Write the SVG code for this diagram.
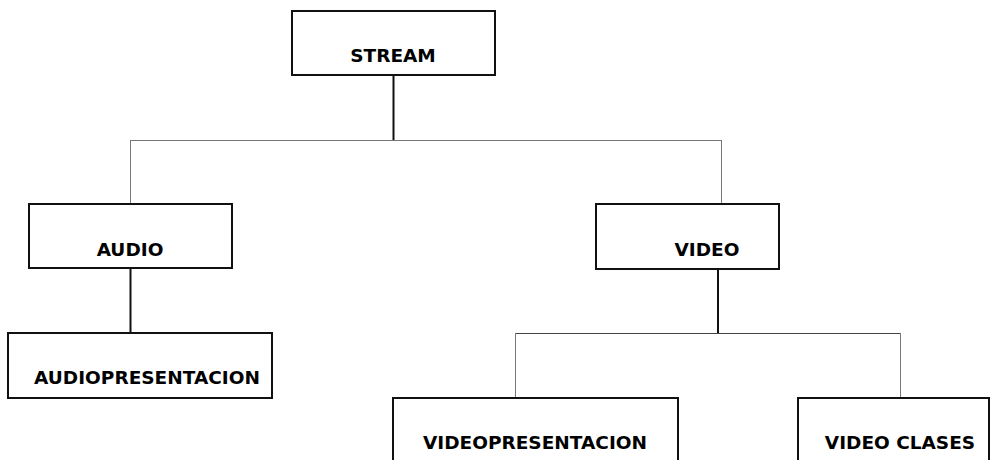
<svg xmlns="http://www.w3.org/2000/svg" width="992" height="460" viewBox="0 0 992 460">
<style>
.box{fill:#fff;stroke:#111;stroke-width:2}
.lbl{font-family:"DejaVu Sans",Verdana,sans-serif;font-weight:bold;font-size:18.5px;fill:#000;text-anchor:middle}
.main{stroke:#111;stroke-width:2;fill:none}
.thin{stroke:#777;stroke-width:1;fill:none}
.bar{stroke:#444;stroke-width:1;fill:none}
</style>
<rect width="992" height="460" fill="#fff"/>
<g id="connectors">
<line class="main" x1="393.5" y1="75" x2="393.5" y2="140"/>
<line class="thin" x1="130.5" y1="140.5" x2="721.5" y2="140.5"/>
<line class="thin" x1="130.5" y1="140" x2="130.5" y2="204"/>
<line class="thin" x1="721.5" y1="140" x2="721.5" y2="204"/>
<line class="main" x1="130.5" y1="268" x2="130.5" y2="333"/>
<line class="main" x1="718" y1="269" x2="718" y2="333"/>
<line class="bar" x1="515.5" y1="333.5" x2="900.5" y2="333.5"/>
<line class="thin" x1="515.5" y1="333" x2="515.5" y2="398"/>
<line class="thin" x1="900.5" y1="333" x2="900.5" y2="398"/>
</g>
<g id="stream">
<rect class="box" x="292" y="11" width="203" height="64"/>
<text class="lbl" x="393" y="62">STREAM</text>
</g>
<g id="audio">
<rect class="box" x="29" y="204" width="203" height="64"/>
<text class="lbl" x="130" y="256">AUDIO</text>
</g>
<g id="video">
<rect class="box" x="596" y="204" width="183" height="65"/>
<text class="lbl" x="707" y="256">VIDEO</text>
</g>
<g id="audiopresentacion">
<rect class="box" x="8" y="333" width="264" height="65"/>
<text class="lbl" x="147" y="384">AUDIOPRESENTACION</text>
</g>
<g id="videopresentacion">
<rect class="box" x="393" y="398" width="285" height="70"/>
<text class="lbl" x="535" y="449">VIDEOPRESENTACION</text>
</g>
<g id="videoclases">
<rect class="box" x="798" y="398" width="191" height="70"/>
<text class="lbl" x="900" y="449">VIDEO CLASES</text>
</g>
</svg>
